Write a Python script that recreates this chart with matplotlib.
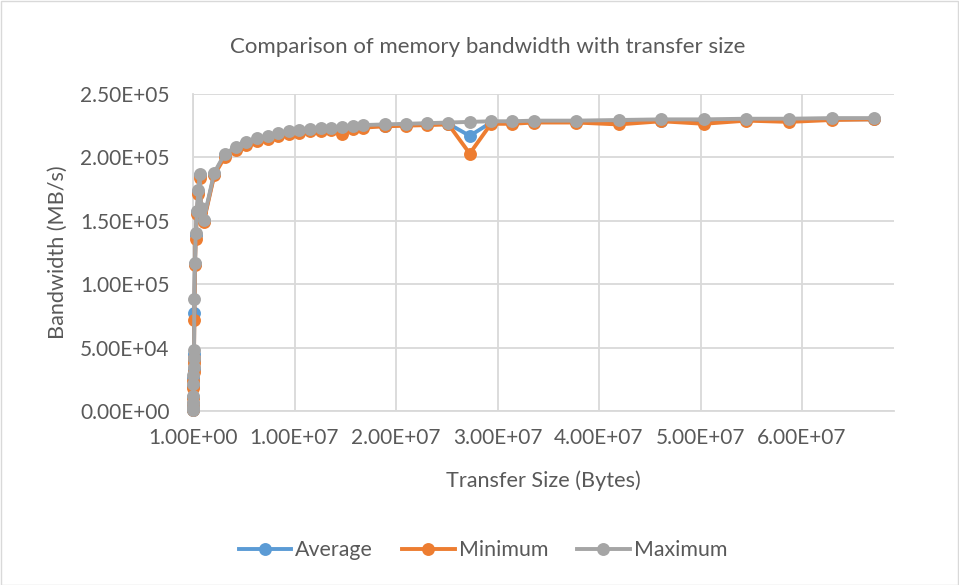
import matplotlib
matplotlib.use("Agg")
import matplotlib.pyplot as plt
from matplotlib.lines import Line2D
from matplotlib.patches import Rectangle
from matplotlib.ticker import FixedLocator, FuncFormatter

# ---- data ----
transfer_size = [
    1024, 2048, 4096, 8192, 16384, 32768, 49152, 65536, 81920, 98304,
    131072, 196608, 262144, 393216, 524288, 655360, 786432, 1048576,
    2097152, 3145728, 4194304, 5242880, 6291456, 7340032, 8388608,
    9437184, 10485760, 11534336, 12582912, 13631488, 14680064, 15728640, 16777216,
    18874368, 20971520, 23068672, 25165824, 27262976, 29360128, 31457280, 33554432,
    37748736, 41943040, 46137344, 50331648, 54525952, 58720256, 62914560, 67108864,
]

maximum = [
    900, 1800, 3500, 6500, 12000, 21000, 28000, 35000, 42000, 48000,
    88000, 117000, 140000, 158000, 174000, 187000, 160000, 151000,
    188000, 203000, 208000, 212000, 215000, 216500, 219000,
    220500, 221500, 222500, 223000, 223500, 224000, 224500, 225500,
    226000, 226500, 227000, 227500, 228000, 228500, 228500, 229000,
    229000, 229500, 230000, 230000, 230500, 230500, 231000, 231000,
]

average = [
    800, 1600, 3200, 6000, 11000, 19500, 26000, 33000, 40000, 45000,
    77000, 116000, 138500, 157000, 173000, 186000, 158500, 150000,
    187000, 202000, 207000, 211000, 214000, 215500, 218000,
    219500, 220500, 221500, 222000, 222500, 222000, 223500, 224500,
    225000, 225500, 226000, 226500, 217000, 227500, 227500, 228000,
    228000, 228000, 229000, 228500, 229500, 229500, 230000, 230000,
]

minimum = [
    700, 1400, 2800, 5500, 10000, 18000, 24000, 31000, 38000, 42000,
    72000, 115000, 136000, 155000, 171500, 184000, 157000, 149000,
    186000, 200500, 205500, 210000, 213000, 214500, 217000,
    218500, 219500, 220500, 221000, 221500, 218500, 222500, 223500,
    224500, 225000, 225500, 226000, 203000, 226500, 226500, 227500,
    227500, 226000, 228500, 226500, 229000, 228000, 229500, 230000,
]

series_names = ["Average", "Minimum", "Maximum"]
series_colors = ["#5B9BD5", "#ED7D31", "#A5A5A5"]

x_ticks = [1, 10000001, 20000001, 30000001, 40000001, 50000001, 60000001]
y_ticks = [0, 50000, 100000, 150000, 200000, 250000]

title = "Comparison of memory bandwidth with transfer size"
x_title = "Transfer Size (Bytes)"
y_title = "Bandwidth (MB/s)"

# ---- styling ----
plt.rcParams["font.family"] = ["Lato", "DejaVu Sans"]
text_color = "#595959"
grid_color = "#D9D9D9"
FS_TICK = 15
FS_TITLE = 16
FS_AXT = 15.6
FS_LEG = 15.4
LW = 2.8
MS = 9.3

W, H = 959, 585
fig = plt.figure(figsize=(W / 100, H / 100), dpi=100)
fig.patches.append(Rectangle((0.5 / W, 0.5 / H), (W - 1.5) / W, (H - 1.5) / H,
                             transform=fig.transFigure, fill=False,
                             edgecolor=grid_color, lw=1))

L, R, T, B = 193, 894, 94, 411
ax = fig.add_axes([L / W, 1 - B / H, (R - L) / W, (B - T) / H])

for vals, name, col in zip([average, minimum, maximum], series_names, series_colors):
    ax.plot(transfer_size, vals, color=col, lw=LW, marker="o", ms=MS,
            markeredgewidth=0, label=name, clip_on=False, zorder=3)

ax.set_xlim(1, 6.906e7)
ax.set_ylim(0, 250000)
ax.xaxis.set_major_locator(FixedLocator(x_ticks))
ax.yaxis.set_major_locator(FixedLocator(y_ticks))
fmt = FuncFormatter(lambda v, p: "{:.2E}".format(v))
ax.xaxis.set_major_formatter(fmt)
ax.yaxis.set_major_formatter(fmt)
ax.grid(True, color=grid_color, lw=1.3, zorder=0)
ax.set_axisbelow(True)
for s in ["top", "right"]:
    ax.spines[s].set_visible(False)
for s in ["left", "bottom"]:
    ax.spines[s].set_color(grid_color)
    ax.spines[s].set_linewidth(1.3)
ax.tick_params(axis="both", length=0, labelsize=FS_TICK, labelcolor=text_color)
ax.tick_params(axis="y", pad=17)
ax.tick_params(axis="x", pad=12)

fig.text(488 / W, 1 - 47 / H, title, ha="center", va="center", fontsize=FS_TITLE, color=text_color)
fig.text(543 / W, 1 - 481 / H, x_title, ha="center", va="center", fontsize=FS_AXT, color=text_color)
fig.text(58 / W, 1 - 252.5 / H, y_title, ha="center", va="center", rotation=90,
         fontsize=FS_AXT, color=text_color)

handles = [Line2D([], [], color=c, lw=LW, marker="o", ms=MS, markeredgewidth=0)
           for c in series_colors]
fig.legend(handles, series_names, loc="center", bbox_to_anchor=(483 / W, 1 - 550 / H),
           ncol=3, frameon=False, fontsize=FS_LEG, labelcolor=text_color,
           handlelength=2.45, handletextpad=0.2, columnspacing=1.35)

fig.savefig("out.png", dpi=100)
